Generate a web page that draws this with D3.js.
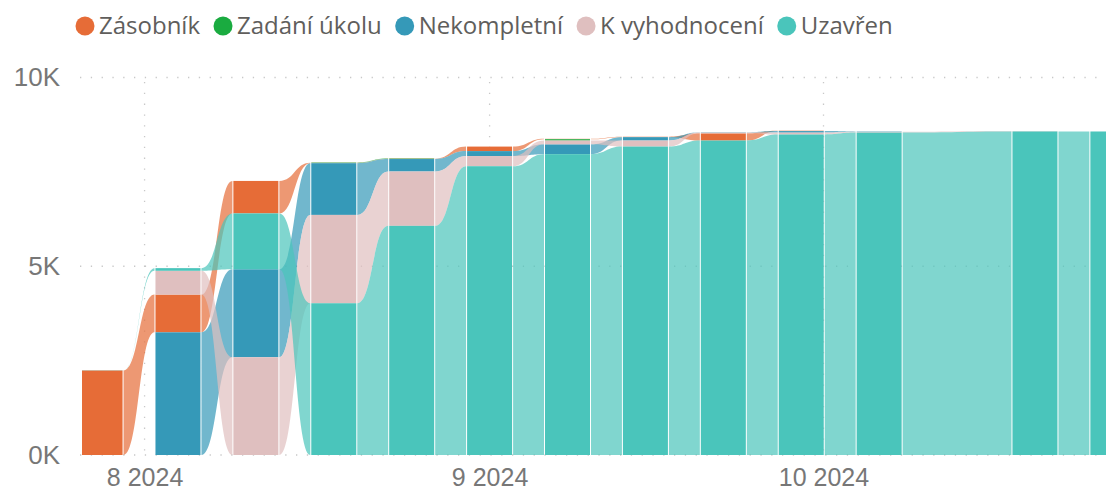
<!DOCTYPE html>
<html>
<head>
<meta charset="utf-8">
<script src="https://cdn.jsdelivr.net/npm/d3@7"></script>
<style>
    body { margin: 0; background: #fff; }
    svg { display: block; font-family: "Segoe UI", "Open Sans", sans-serif; }
    .grid line { stroke: #c8c8c8; stroke-width: 1.3; stroke-dasharray: 1.3, 9.5; }
    .axis text { fill: #777; font-size: 26px; }
    .xaxis text { font-size: 25px; }
    .legend text { fill: #605e5c; font-size: 24px; }
</style>
</head>
<body>
<div id="chart"></div>
<script>
// weekly columns (week 13.10. has no data)
var dates = ["2024-07-28", "2024-08-04", "2024-08-11", "2024-08-18", "2024-08-25", "2024-09-01",
    "2024-09-08", "2024-09-15", "2024-09-22", "2024-09-29", "2024-10-06", "2024-10-20", "2024-10-27"];

var seriesNames = ["Zásobník", "Zadání úkolu", "Nekompletní", "K vyhodnocení", "Uzavřen"];
var seriesColors = ["#E66C37", "#1AAB40", "#3599B8", "#DFBFBF", "#4AC5BB"];

var zasobnik    = [2240, 1000, 860, 10, 10, 120, 10, 10, 190, 10, null, null, null];
var zadaniUkolu = [null, null, null, 10, 10, null, 35, null, null, null, null, null, null];
var nekompletni = [null, 3250, 2330, 1370, 330, 130, 260, 90, 10, 40, 10, null, null];
var kVyhodnoceni = [null, 630, 2590, 2340, 1440, 270, 100, 160, 20, 50, 20, 10, null];
var uzavren     = [5, 70, 1480, 4020, 6070, 7650, 7970, 8170, 8330, 8490, 8540, 8570, 8570];

var yTicks = [0, 5000, 10000];
var monthTicks = ["2024-08-01", "2024-09-01", "2024-10-01"];

var values = [zasobnik, zadaniUkolu, nekompletni, kVyhodnoceni, uzavren];

var width = 1106, height = 492;
var barWidth = 45;

var svg = d3.select("#chart")
    .append("svg")
    .attr("width", width)
    .attr("height", height);

var x = d3.scaleUtc()
    .domain([new Date(Date.UTC(2024, 6, 26)), new Date(Date.UTC(2024, 9, 28))])
    .range([77.8, 1124]);

var y = d3.scaleLinear()
    .domain([0, 10000])
    .range([455, 77.5]);

var parse = d3.utcParse("%Y-%m-%d");

svg.append("defs").append("clipPath")
    .attr("id", "plot")
    .append("rect")
    .attr("x", 82).attr("y", 0)
    .attr("width", width - 82).attr("height", height);

// gridlines
var grid = svg.append("g").attr("class", "grid");
grid.selectAll("hline")
    .data(yTicks)
    .enter()
    .append("line")
    .attr("x1", 80).attr("x2", width)
    .attr("y1", d => y(d)).attr("y2", d => y(d));
grid.selectAll("vline")
    .data(monthTicks)
    .enter()
    .append("line")
    .attr("x1", d => x(parse(d))).attr("x2", d => x(parse(d)))
    .attr("y1", 82).attr("y2", 455);

// stack every column, biggest value at the bottom
var pos = seriesNames.map(() => []);
dates.forEach(function(d, i) {
    var order = d3.range(seriesNames.length)
        .filter(s => values[s][i] > 0)
        .sort((a, b) => values[b][i] - values[a][i]);
    var acc = 0;
    order.forEach(function(s) {
        pos[s][i] = { y0: acc, y1: acc + values[s][i] };
        acc += values[s][i];
    });
});

var plot = svg.append("g").attr("clip-path", "url(#plot)");

// ribbons between columns
var ribbons = [];
seriesNames.forEach(function(name, s) {
    for (var i = 0; i < dates.length - 1; i++) {
        if (pos[s][i] && pos[s][i + 1]) ribbons.push({ s: s, a: pos[s][i], b: pos[s][i + 1], i: i });
    }
});

plot.selectAll("path.ribbon")
    .data(ribbons)
    .enter()
    .append("path")
    .attr("class", "ribbon")
    .attr("fill", d => seriesColors[d.s])
    .attr("fill-opacity", 0.7)
    .attr("d", function(d) {
        var x0 = x(parse(dates[d.i])) + barWidth / 2 + 1,
            x1 = x(parse(dates[d.i + 1])) - barWidth / 2 - 1,
            xm = (x0 + x1) / 2;
        return "M" + x0 + "," + y(d.a.y1) +
            "C" + xm + "," + y(d.a.y1) + " " + xm + "," + y(d.b.y1) + " " + x1 + "," + y(d.b.y1) +
            "L" + x1 + "," + y(d.b.y0) +
            "C" + xm + "," + y(d.b.y0) + " " + xm + "," + y(d.a.y0) + " " + x0 + "," + y(d.a.y0) + "Z";
    });

// column segments
var segments = [];
seriesNames.forEach(function(name, s) {
    dates.forEach(function(d, i) {
        if (pos[s][i]) segments.push({ s: s, date: d, p: pos[s][i] });
    });
});

plot.selectAll("rect.segment")
    .data(segments)
    .enter()
    .append("rect")
    .attr("class", "segment")
    .attr("x", d => x(parse(d.date)) - barWidth / 2)
    .attr("width", barWidth)
    .attr("y", d => y(d.p.y1))
    .attr("height", d => y(d.p.y0) - y(d.p.y1))
    .attr("fill", d => seriesColors[d.s]);

// axes
svg.append("g")
    .attr("class", "axis")
    .attr("transform", "translate(80,0)")
    .call(d3.axisLeft(y).tickValues(yTicks).tickSize(0).tickPadding(20).tickFormat(d => d / 1000 + "K"))
    .call(g => g.select(".domain").remove());

svg.append("g")
    .attr("class", "axis xaxis")
    .attr("transform", "translate(0,455)")
    .call(d3.axisBottom(x).tickValues(monthTicks.map(parse)).tickSize(0).tickPadding(13)
        .tickFormat(d => (d.getUTCMonth() + 1) + " " + d.getUTCFullYear()))
    .call(g => g.select(".domain").remove());

svg.selectAll(".axis text").attr("font-family", null).attr("font-size", null);

// legend
var legend = svg.append("g").attr("class", "legend");
var lx = 85;
seriesNames.forEach(function(name, s) {
    legend.append("circle")
        .attr("cx", lx).attr("cy", 26).attr("r", 9.5)
        .attr("fill", seriesColors[s]);
    var t = legend.append("text")
        .attr("x", lx + 14).attr("y", 26)
        .attr("dy", "0.35em")
        .text(name);
    lx = lx + 14 + t.node().getComputedTextLength() + 23;
});
</script>
</body>
</html>
